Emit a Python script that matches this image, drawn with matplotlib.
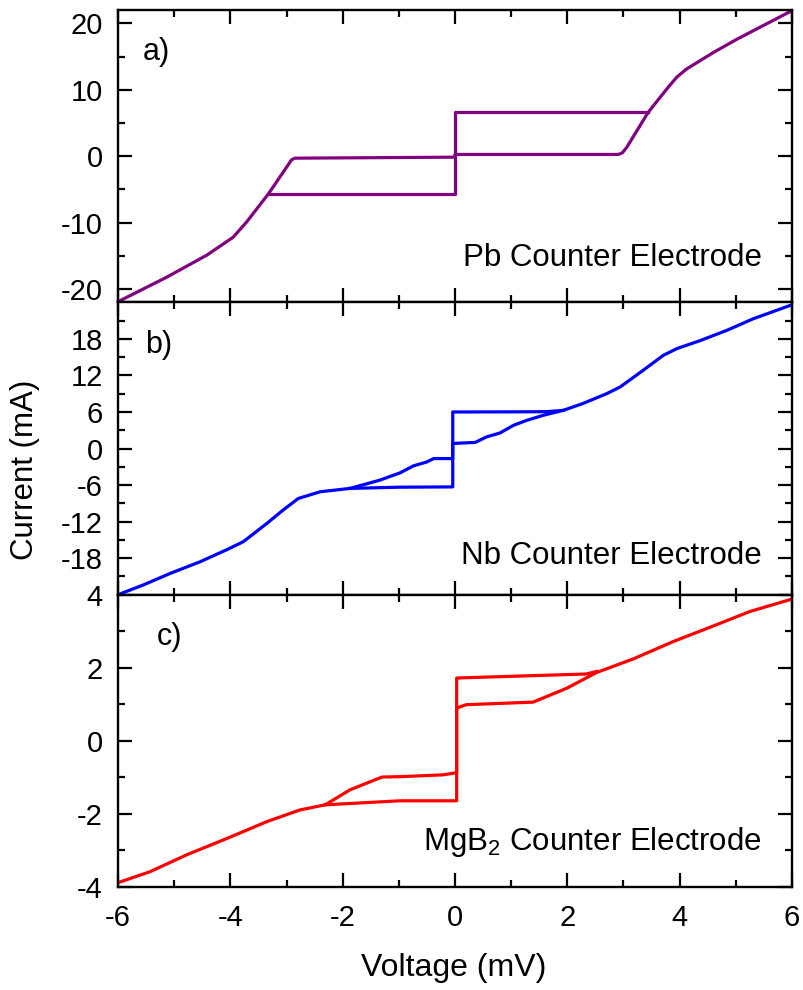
import matplotlib
matplotlib.use("Agg")
import matplotlib.pyplot as plt
from matplotlib.ticker import FixedLocator

plt.rcParams['font.family'] = ['Liberation Sans', 'DejaVu Sans']
plt.rcParams['mathtext.default'] = 'regular'
plt.rcParams['axes.unicode_minus'] = False

# a) Pb counter electrode: main sweep + hysteresis branch
pb_v = [-6.0, -5.13, -4.42, -3.95, -3.71, -3.32, -2.91, -2.85, 0.0, 0.0,
        2.91, 2.98, 3.06, 3.44, 3.77, 3.95, 4.12, 4.6, 5.02, 6.0]
pb_i = [-21.9, -18.2, -14.9, -12.2, -9.9, -5.65, -0.55, -0.3, -0.15, 0.26,
        0.26, 0.5, 1.35, 6.6, 10.1, 11.9, 13.1, 15.6, 17.6, 21.9]
pb_bv = [-3.32, 0.0, 0.0, 3.44]
pb_bi = [-5.65, -5.65, 6.6, 6.6]

# b) Nb counter electrode
nb_v = [-6.0, -5.55, -5.07, -4.54, -4.06, -3.77, -3.35, -3.06, -2.79, -2.40,
        -1.87, -1.34, -0.98, -0.74, -0.5, -0.38, -0.04, -0.04, 0.0, 0.36,
        0.56, 0.8, 1.04, 1.27, 1.57, 1.93, 2.28, 2.7, 2.94, 3.3,
        3.71, 3.95, 4.36, 4.84, 5.31, 6.0]
nb_i = [-24.0, -22.4, -20.5, -18.6, -16.6, -15.3, -12.3, -10.1, -8.2, -7.1,
        -6.55, -5.2, -4.0, -2.85, -2.2, -1.65, -1.65, 0.8, 0.85, 1.0,
        1.9, 2.55, 3.8, 4.6, 5.45, 6.27, 7.4, 9.0, 10.1, 12.5,
        15.3, 16.4, 17.7, 19.4, 21.3, 23.6]
nb_bv = [-1.87, -1.0, -0.04, -0.04, 1.0, 1.63, 1.93]
nb_bi = [-6.55, -6.35, -6.3, 6.0, 6.02, 6.05, 6.27]

# c) MgB2 counter electrode
mg_v = [-6.0, -5.43, -4.78, -4.06, -3.35, -2.76, -2.31, -1.87, -1.3, -0.98,
        -0.21, 0.03, 0.03, 0.2, 1.39, 1.99, 2.52, 3.17, 3.89, 4.66, 5.25, 6.0]
mg_i = [-3.88, -3.58, -3.12, -2.67, -2.21, -1.89, -1.75, -1.34, -0.99, -0.98,
        -0.93, -0.87, 0.9, 0.99, 1.06, 1.44, 1.87, 2.24, 2.72, 3.18, 3.54, 3.88]
mg_bv = [-2.31, -0.98, 0.03, 0.03, 2.34, 2.52]
mg_bi = [-1.75, -1.64, -1.64, 1.72, 1.83, 1.9]

panels = [
    (pb_v, pb_i, pb_bv, pb_bi, '#800080', (-22, 22), [-20, -10, 0, 10, 20],
     [-15, -5, 5, 15], 'a)', 0.037, 'Pb Counter Electrode', 0.124),
    (nb_v, nb_i, nb_bv, nb_bi, '#0000ff', (-24, 24), [-18, -12, -6, 0, 6, 12, 18],
     [-21, -15, -9, -3, 3, 9, 15, 21], 'b)', 0.040, 'Nb Counter Electrode', 0.105),
    (mg_v, mg_i, mg_bv, mg_bi, '#ff0000', (-4, 4), [-4, -2, 0, 2, 4],
     [-3, -1, 1, 3], 'c)', 0.058, 'MgB$_2$ Counter Electrode', 0.126),
]

fig, axes = plt.subplots(3, 1, sharex=True, figsize=(8.04, 9.9), dpi=100)
fig.subplots_adjust(left=0.1468, right=0.985, top=0.9899, bottom=0.104, hspace=0)

for ax, (v, i, bv, bi, col, ylim, major, minor, tag, tx, label, ly) in zip(axes, panels):
    ax.plot(v, i, color=col, lw=2.3, solid_joinstyle='round')
    ax.plot(bv, bi, color=col, lw=2.3, solid_joinstyle='round')
    ax.set_xlim(-6, 6)
    ax.set_ylim(*ylim)
    ax.yaxis.set_major_locator(FixedLocator(major))
    ax.yaxis.set_minor_locator(FixedLocator(minor))
    ax.xaxis.set_major_locator(FixedLocator([-6, -4, -2, 0, 2, 4, 6]))
    ax.xaxis.set_minor_locator(FixedLocator([-5, -3, -1, 1, 3, 5]))
    ax.tick_params(which='both', direction='in', top=True, right=True,
                   width=1.6, labelsize=21)
    ax.tick_params(which='major', length=10)
    ax.tick_params(which='minor', length=5)
    ax.tick_params(axis='y', pad=11)
    ax.tick_params(axis='x', pad=12)
    for s in ax.spines.values():
        s.set_linewidth(1.7)
    ax.text(tx, 0.855, tag, transform=ax.transAxes, fontsize=22,
            ha='left', va='center')
    ax.text(0.955, ly, label, transform=ax.transAxes, fontsize=22.5,
            ha='right', va='baseline')

fig.text(0.031, 1 - 470 / 990, 'Current (mA)', rotation=90, fontsize=22.5,
         ha='center', va='center')
fig.text(0.5647, 1 - 968 / 990, 'Voltage (mV)', fontsize=23,
         ha='center', va='center')

fig.savefig('out.png', dpi=100)
